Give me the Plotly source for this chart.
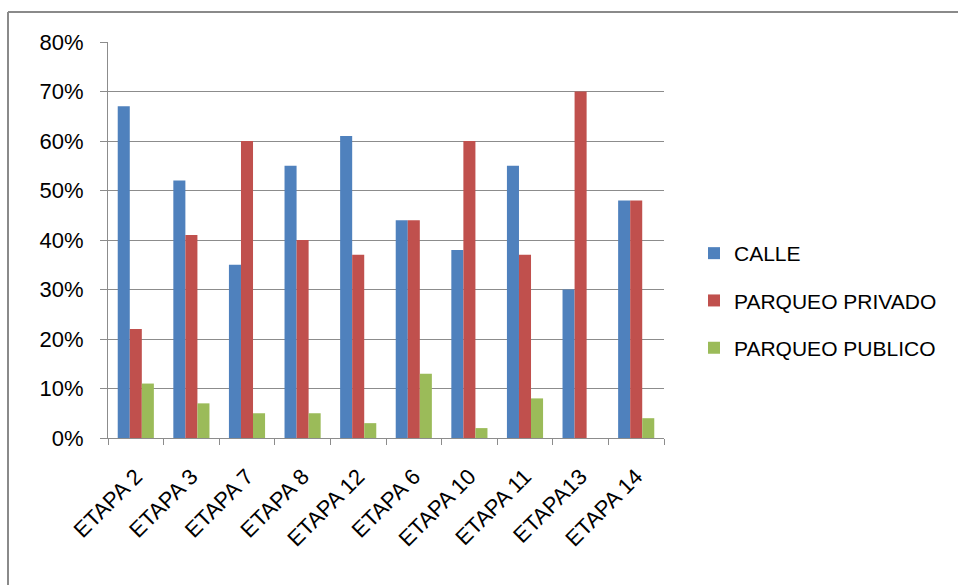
import plotly.graph_objects as go

# Share of parking location by stage (%)
etapas = ["ETAPA 2", "ETAPA 3", "ETAPA 7", "ETAPA 8", "ETAPA 12",
          "ETAPA 6", "ETAPA 10", "ETAPA 11", "ETAPA13", "ETAPA 14"]
calle = [67, 52, 35, 55, 61, 44, 38, 55, 30, 48]
parqueo_privado = [22, 41, 60, 40, 37, 44, 60, 37, 70, 48]
parqueo_publico = [11, 7, 5, 5, 3, 13, 2, 8, 0, 4]

series = [
    ("CALLE", calle, "#4F81BD"),
    ("PARQUEO PRIVADO", parqueo_privado, "#C0504D"),
    ("PARQUEO PUBLICO", parqueo_publico, "#9BBB59"),
]

W, H = 958, 585
L, R, T, B = 108, 294, 42, 147
pw, ph = W - L - R, H - T - B

fig = go.Figure()
for i, (name, vals, color) in enumerate(series):
    fig.add_trace(go.Bar(
        x=etapas, y=vals, name=name, legendgroup=f"g{i}",
        marker=dict(color=color, line=dict(width=0)),
    ))

font_family = "Liberation Sans, Arial, sans-serif"
grid_col = "#8C8C8C"

fig.update_layout(
    width=W, height=H,
    margin=dict(l=L, r=R, t=T, b=B, pad=0),
    paper_bgcolor="white", plot_bgcolor="white",
    barmode="group", bargap=0.35, bargroupgap=0,
    font=dict(family=font_family, color="#000000", size=21),
    showlegend=True,
    legend=dict(
        x=(694 - L) / pw, y=(438 - 252 + 19) / ph, xanchor="left", yanchor="top",
        font=dict(size=21), traceorder="grouped", tracegroupgap=17,
        bgcolor="rgba(0,0,0,0)", itemclick=False,
    ),
    xaxis=dict(
        type="category", tickangle=-45, tickson="boundaries",
        ticks="outside", ticklen=6, tickcolor=grid_col, tickwidth=1,
        ticklabelstandoff=16,
        showline=True, linecolor=grid_col, linewidth=1,
        showgrid=False, tickfont=dict(size=22),
    ),
    yaxis=dict(
        range=[0, 80], dtick=10, ticksuffix="%",
        ticks="outside", ticklen=7, tickcolor=grid_col, tickwidth=1,
        ticklabelstandoff=12,
        showline=True, linecolor=grid_col, linewidth=1,
        showgrid=True, gridcolor=grid_col, gridwidth=1,
        zeroline=False, tickfont=dict(size=22),
    ),
    shapes=[
        # chart frame: top and left edges
        dict(type="line", xref="paper", yref="paper",
             x0=(8 - L) / pw, x1=(W - L) / pw,
             y0=(438 - 12) / ph, y1=(438 - 12) / ph,
             line=dict(color="#8A8A8A", width=2)),
        dict(type="line", xref="paper", yref="paper",
             x0=(8 - L) / pw, x1=(8 - L) / pw,
             y0=(438 - 12) / ph, y1=(438 - H) / ph,
             line=dict(color="#8A8A8A", width=2)),
    ],
)

fig.write_html("out.html")
